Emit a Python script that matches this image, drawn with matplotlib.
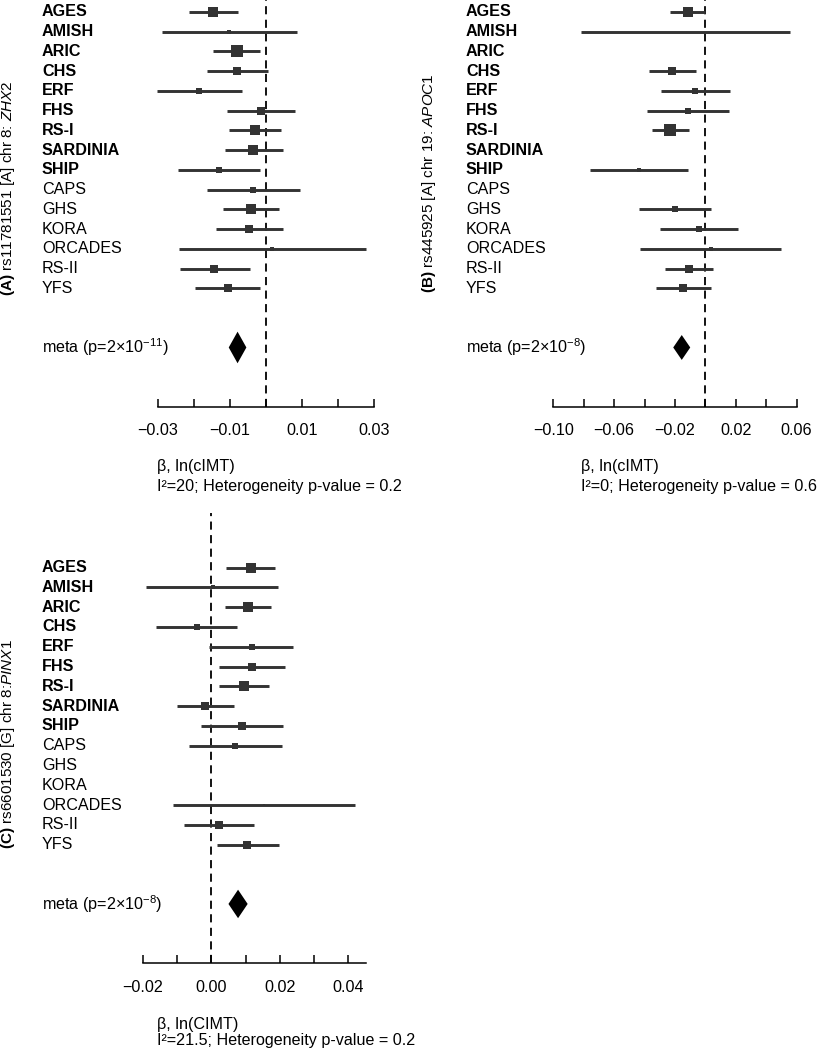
import numpy as np
import matplotlib
matplotlib.use("Agg")
import matplotlib.pyplot as plt
import matplotlib.transforms as mtransforms

plt.rcParams['font.family'] = ['Liberation Sans', 'DejaVu Sans']
plt.rcParams['mathtext.fontset'] = 'custom'
plt.rcParams['mathtext.rm'] = 'Liberation Sans'
plt.rcParams['mathtext.it'] = 'Liberation Sans:italic'
plt.rcParams['mathtext.bf'] = 'Liberation Sans:bold'

# study names (first 9 are discovery cohorts, printed bold)
studies = ['AGES', 'AMISH', 'ARIC', 'CHS', 'ERF', 'FHS', 'RS-I', 'SARDINIA',
           'SHIP', 'CAPS', 'GHS', 'KORA', 'ORCADES', 'RS-II', 'YFS']
n_bold = 9
nan = np.nan

# (A) rs11781551 ZHX2
beta_a = [-0.0146, -0.0103, -0.0081, -0.0080, -0.0185, -0.0015, -0.0030, -0.0035,
          -0.0131, -0.0035, -0.0042, -0.0047, 0.0016, -0.0144, -0.0106]
lo_a = [-0.0214, -0.0290, -0.0146, -0.0165, -0.0303, -0.0109, -0.0102, -0.0115,
        -0.0244, -0.0163, -0.0119, -0.0139, -0.0242, -0.0240, -0.0196]
hi_a = [-0.0077, 0.0085, -0.0017, 0.0006, -0.0066, 0.0080, 0.0042, 0.0046,
        -0.0016, 0.0094, 0.0037, 0.0046, 0.0278, -0.0045, -0.0018]
wt_a = [10, 4, 11, 8, 6, 7, 10, 9, 6, 5, 9, 8, 3, 7, 8]
meta_a = (-0.0079, 0.00245)

# (B) rs445925 APOC1
beta_b = [-0.0116, -0.0130, nan, -0.0217, -0.0066, -0.0116, -0.0230, nan,
          -0.0438, nan, -0.0199, -0.0039, 0.0038, -0.0105, -0.0145]
lo_b = [-0.0232, -0.0820, nan, -0.0370, -0.0293, -0.0386, -0.0349, nan,
        -0.0759, nan, -0.0434, -0.0298, -0.0430, -0.0263, -0.0324]
hi_b = [-0.0002, 0.0557, nan, -0.0063, 0.0162, 0.0156, -0.0107, nan,
        -0.0116, nan, 0.0037, 0.0217, 0.0498, 0.0053, 0.0037]
wt_b = [10, 1, 0, 8, 5, 5, 11, 0, 4, 0, 5, 5, 3, 8, 7]
meta_b = (-0.0155, 0.0056)

# (C) rs6601530 PINX1
beta_c = [0.0115, 0.0004, 0.0106, -0.0042, 0.0118, 0.0120, 0.0095, -0.0018,
          0.0090, 0.0070, nan, nan, 0.0155, 0.0022, 0.0105]
lo_c = [0.0043, -0.0190, 0.0041, -0.0161, -0.0006, 0.0021, 0.0021, -0.0101,
        -0.0029, -0.0066, nan, nan, -0.0113, -0.0080, 0.0017]
hi_c = [0.0186, 0.0195, 0.0173, 0.0076, 0.0239, 0.0216, 0.0167, 0.0066,
        0.0208, 0.0206, nan, nan, 0.0420, 0.0124, 0.0197]
wt_c = [10, 3, 10, 6, 6, 7, 10, 8, 7, 6, 0, 0, 2, 7, 7]
meta_c = (0.0078, 0.0028)

W, H = 817, 1050
fig = plt.figure(figsize=(W / 100, H / 100), dpi=100)
FS = 11.6
GREY = '#333333'


def panel(zero_px, scale, xlim, top_px, bottom_px, ylim, label_px,
          beta, lo, hi, wt, meta, meta_txt, meta_hh,
          ticks, ticklabels, axis_bounds, title, title_xy,
          sub1, sub2, sub_x, sub_y):
    left = zero_px + xlim[0] * scale
    right = zero_px + xlim[1] * scale
    ax = fig.add_axes([left / W, 1 - bottom_px / H, (right - left) / W,
                       (bottom_px - top_px) / H])
    ax.set_xlim(xlim)
    ax.set_ylim(ylim)
    rows = np.arange(len(studies))
    for i in rows:
        if np.isnan(beta[i]):
            continue
        ax.plot([lo[i], hi[i]], [i, i], color=GREY, lw=2.1,
                solid_capstyle='butt', zorder=2)
        if wt[i] > 0:
            ax.plot(beta[i], i, 's', color=GREY, ms=wt[i] * 0.78,
                    mew=0, zorder=3)
    m, hw = meta
    ym = 17
    ax.fill([m - hw, m, m + hw, m], [ym, ym - meta_hh, ym, ym + meta_hh],
            color='black', lw=0, zorder=3)
    ax.axvline(0, color='black', lw=1.3, dashes=(4.5, 3), zorder=1)

    tr = mtransforms.blended_transform_factory(fig.transFigure, ax.transData)
    for i, s in enumerate(studies):
        ax.text(label_px / W, i, s, transform=tr, ha='left', va='center',
                fontsize=FS, fontweight='bold' if i < n_bold else 'normal')
    ax.text(label_px / W, ym, meta_txt, transform=tr, ha='left',
            va='center', fontsize=FS)

    for sp in ['top', 'left', 'right']:
        ax.spines[sp].set_visible(False)
    ax.spines['bottom'].set_bounds(*axis_bounds)
    ax.spines['bottom'].set_linewidth(1.1)
    ax.set_yticks([])
    ax.set_xticks(ticks)
    ax.set_xticklabels(ticklabels, fontsize=FS)
    ax.tick_params(axis='x', direction='in', length=5.5, width=1.1, pad=12)
    ax.patch.set_visible(False)

    fig.text(title_xy[0] / W, 1 - title_xy[1] / H, title, rotation=90,
             ha='center', va='center', fontsize=11)
    fig.text(sub_x / W, 1 - sub_y[0] / H, sub1, ha='left', va='center',
             fontsize=FS)
    fig.text(sub_x / W, 1 - sub_y[1] / H, sub2, ha='left', va='center',
             fontsize=FS)
    return ax


M = '\u2212'
panel(266, 3600, (-0.035, 0.035), 0, 406.7, (20, -0.6), 42,
      beta_a, lo_a, hi_a, wt_a, meta_a, r'meta (p=2×10$^{-11}$)', 0.8,
      np.arange(-0.03, 0.031, 0.01),
      [M + '0.03', '', M + '0.01', '', '0.01', '', '0.03'], (-0.03, 0.03),
      r'$\bf{(A)}$ rs11781551 [A] chr 8: $\it{ZHX2}$', (8, 188),
      'β, ln(cIMT)', 'I²=20; Heterogeneity p-value = 0.2', 157, (466, 486))

panel(705.3, 1520, (-0.11, 0.065), 0, 406.7, (20, -0.6), 466,
      beta_b, lo_b, hi_b, wt_b, meta_b, r'meta (p=2×10$^{-8}$)', 0.63,
      np.arange(-0.10, 0.061, 0.02),
      [M + '0.10', '', M + '0.06', '', M + '0.02', '', '0.02', '', '0.06'],
      (-0.10, 0.06),
      r'$\bf{(B)}$ rs445925 [A] chr 19: $\it{APOC1}$', (429, 183),
      'β, ln(cIMT)', 'I²=0; Heterogeneity p-value = 0.6', 580.7, (466, 486))

panel(211.3, 3430, (-0.025, 0.05), 513, 963.3, (20, -2.76), 42,
      beta_c, lo_c, hi_c, wt_c, meta_c, r'meta (p=2×10$^{-8}$)', 0.72,
      np.arange(-0.02, 0.041, 0.01),
      [M + '0.02', '', '0.00', '', '0.02', '', '0.04'], (-0.02, 0.045),
      r'$\bf{(C)}$ rs6601530 [G] chr 8:$\it{PINX1}$', (8, 744),
      'β, ln(CIMT)', 'I²=21.5; Heterogeneity p-value = 0.2', 157, (1024, 1041))

fig.savefig('out.png', dpi=100)
